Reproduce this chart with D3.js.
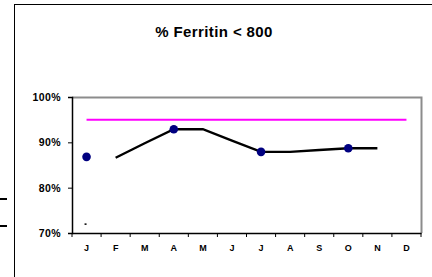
<!DOCTYPE html>
<html>
<head>
<meta charset="utf-8">
<script src="https://cdn.jsdelivr.net/npm/d3@7"></script>
<style>
  body { margin: 0; background: #fff; }
  text { font-family: "Liberation Sans", Arial, sans-serif; font-weight: bold; }
</style>
</head>
<body>
<div id="canvas"></div>
<script>
"use strict"

/* chart data */
let months = ["J", "F", "M", "A", "M", "J", "J", "A", "S", "O", "N", "D"];
let quarterly = [86.8, null, null, 92.9, null, null, 87.9, null, null, 88.7, null, null];
let rolling = [null, 86.6, 89.8, 92.9, 92.9, 90.4, 87.9, 87.9, 88.3, 88.7, 88.7, null];
let target = [95, 95, 95, 95, 95, 95, 95, 95, 95, 95, 95, 95];
let stray = [71.9, null, null, null, null, null, null, null, null, null, null, null];
let yTicks = [70, 80, 90, 100];

let drawing = d3.select("#canvas")
  .append("svg")
  .attr("width", 432)
  .attr("height", 277);

/* outer chart frame (runs off the right and bottom) */
drawing.append("rect")
  .attr("x", 14.5)
  .attr("y", 4.5)
  .attr("width", 440)
  .attr("height", 300)
  .attr("fill", "white")
  .attr("stroke", "black")
  .attr("stroke-width", 1);

/* the two dashes at the far left */
drawing.append("rect").attr("x", 0).attr("y", 198).attr("width", 7).attr("height", 2).attr("fill", "black");
drawing.append("rect").attr("x", 0).attr("y", 225).attr("width", 7).attr("height", 2).attr("fill", "black");

/* title */
drawing.append("text")
  .attr("x", 214)
  .attr("y", 37)
  .attr("text-anchor", "middle")
  .attr("font-size", 15)
  .attr("letter-spacing", 0.4)
  .text("% Ferritin < 800");

let plotL = 72, plotR = 421, plotT = 97, plotB = 233;

let x = d3.scaleBand()
  .domain(d3.range(12))
  .range([plotL, plotR]);

let y = d3.scaleLinear()
  .domain([70, 100])
  .range([plotB, plotT]);

/* plot frame: grey top and right */
drawing.append("path")
  .attr("d", `M${plotL},${plotT + 0.5}H${plotR + 0.5}V${plotB}`)
  .attr("fill", "none")
  .attr("stroke", "#8c8c8c")
  .attr("stroke-width", 2);

/* y axis */
let yAxis = drawing.append("g")
  .attr("transform", `translate(${plotL},0)`)
  .call(d3.axisLeft(y).tickValues(yTicks).tickSize(4).tickPadding(7).tickFormat(d => d + "%"));
yAxis.select(".domain").attr("stroke", "black").attr("stroke-width", 1.5);
yAxis.selectAll("text").attr("font-size", 10.5).attr("letter-spacing", 0.4).attr("fill", "black");

/* x axis with ticks at band boundaries */
let xAxis = drawing.append("g")
  .attr("transform", `translate(0,${plotB})`)
  .call(d3.axisBottom(x).tickSize(0).tickPadding(12).tickFormat(i => months[i]));
xAxis.select(".domain").attr("stroke", "black").attr("stroke-width", 1.5);
xAxis.selectAll("text").attr("font-size", 9).attr("fill", "black");
xAxis.selectAll(".bound")
  .data(d3.range(13))
  .join("line")
  .attr("class", "bound")
  .attr("x1", i => plotL + i * x.step())
  .attr("x2", i => plotL + i * x.step())
  .attr("y1", 0)
  .attr("y2", 4)
  .attr("stroke", "black");

let cx = i => x(i) + x.bandwidth() / 2;

/* target line */
drawing.append("path")
  .datum(target)
  .attr("d", d3.line().x((d, i) => cx(i)).y(d => y(d)))
  .attr("fill", "none")
  .attr("stroke", "#ff00ff")
  .attr("stroke-width", 2);

/* rolling line */
drawing.append("path")
  .datum(rolling)
  .attr("d", d3.line().defined(d => d != null).x((d, i) => cx(i)).y(d => y(d)))
  .attr("fill", "none")
  .attr("stroke", "black")
  .attr("stroke-width", 2.4);

/* quarterly dots */
drawing.selectAll(".dot")
  .data(quarterly.map((v, i) => ({ v, i })).filter(d => d.v != null))
  .join("circle")
  .attr("class", "dot")
  .attr("cx", d => cx(d.i))
  .attr("cy", d => y(d.v))
  .attr("r", 4.3)
  .attr("fill", "#000080");

/* stray tiny marker */
drawing.selectAll(".stray")
  .data(stray.map((v, i) => ({ v, i })).filter(d => d.v != null))
  .join("rect")
  .attr("class", "stray")
  .attr("x", d => cx(d.i) - 2)
  .attr("y", d => y(d.v) - 1)
  .attr("width", 2)
  .attr("height", 1.5)
  .attr("fill", "black");
</script>
</body>
</html>
